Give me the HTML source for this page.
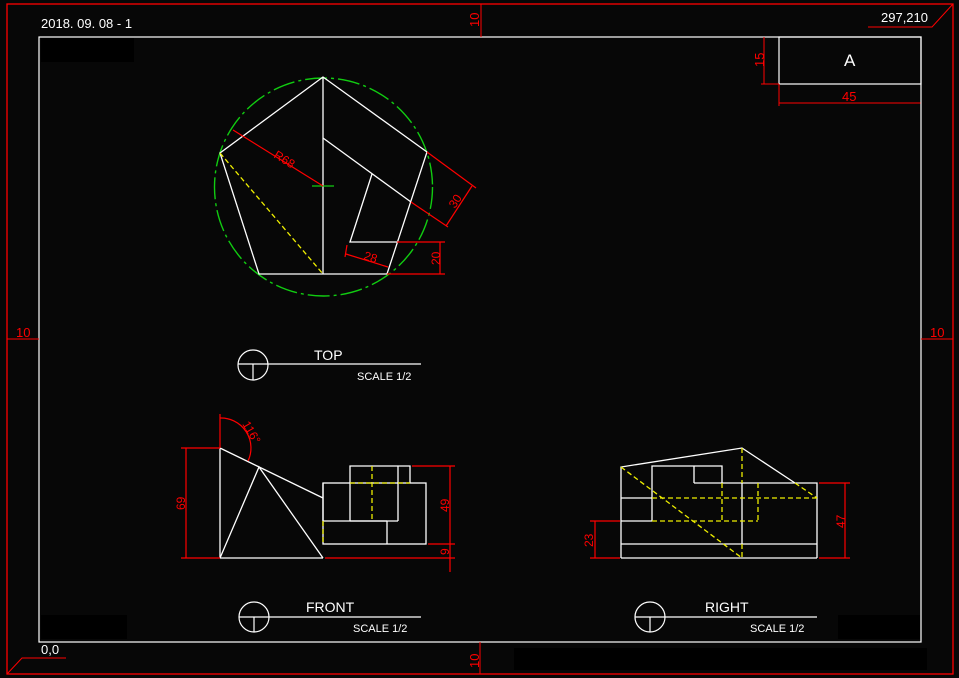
<!DOCTYPE html>
<html><head><meta charset="utf-8"><style>
html,body{margin:0;padding:0;background:#070707;}
svg{display:block;font-family:"Liberation Sans",sans-serif;}
</style></head><body>
<svg width="959" height="678" viewBox="0 0 959 678" xmlns="http://www.w3.org/2000/svg">
<rect width="959" height="678" fill="#070707"/>
<rect x="41" y="38" width="93" height="24" fill="#000"/>
<rect x="41" y="615" width="86" height="24" fill="#000"/>
<rect x="838" y="615" width="82" height="24" fill="#000"/>
<rect x="514" y="648" width="413" height="22" fill="#000"/>
<!-- frames -->
<rect x="7" y="4" width="946" height="670" fill="none" stroke="#f00" stroke-width="1.3"/>
<rect x="39" y="37" width="882" height="605" fill="none" stroke="#fff" stroke-width="1.2"/>
<g stroke="#f00" stroke-width="1">
<line x1="481" y1="4" x2="481" y2="37"/>
<line x1="480" y1="642" x2="480" y2="674"/>
<line x1="7" y1="339" x2="39" y2="339"/>
<line x1="921" y1="339" x2="953" y2="339"/>
<polyline points="868,27 932,27 953,4" fill="none"/>
<polyline points="66,658 22,658 7,674" fill="none"/>
</g>
<g fill="#f00" font-size="13">
<text x="0" y="0" transform="translate(479,27) rotate(-90)">10</text>
<text x="0" y="0" transform="translate(479,668) rotate(-90)">10</text>
<text x="16" y="337">10</text>
<text x="930" y="337">10</text>
</g>
<g fill="#fff" font-size="13">
<text x="41" y="28">2018. 09. 08 - 1</text>
<text x="881" y="22">297,210</text>
<text x="41" y="654">0,0</text>
</g>
<!-- title block -->
<rect x="779" y="37" width="142" height="47" fill="none" stroke="#fff" stroke-width="1.2"/>
<text x="844" y="66" fill="#fff" font-size="17">A</text>
<g stroke="#f00" stroke-width="1">
<line x1="764" y1="37" x2="764" y2="84"/>
<line x1="761" y1="84" x2="779" y2="84"/>
<line x1="779" y1="84" x2="779" y2="106"/>
<line x1="779" y1="103" x2="921" y2="103"/>
</g>
<line x1="921" y1="84" x2="921" y2="106" stroke="#fff"/>
<text x="0" y="0" transform="translate(764,67) rotate(-90)" fill="#f00" font-size="13">15</text>
<text x="842" y="101" fill="#f00" font-size="13">45</text>
<!-- TOP view -->
<circle cx="323.5" cy="187" r="109" fill="none" stroke="#1c1" stroke-width="1.4" stroke-dasharray="22,4,3,4"/>
<g stroke="#fff" stroke-width="1.3" fill="none">
<polygon points="323,77 220,153 259,274 387,274 427,152"/>
<line x1="323" y1="77" x2="323" y2="274"/>
<line x1="323" y1="138" x2="411" y2="202"/>
<polyline points="372,174 350,242 397,242"/>
</g>
<line x1="312" y1="186" x2="334" y2="186" stroke="#1c1" stroke-width="1.3"/>
<line x1="220" y1="153" x2="323" y2="274" stroke="#ee0" stroke-width="1.3" stroke-dasharray="5,3"/>
<g stroke="#f00" stroke-width="1.2" fill="none">
<line x1="233" y1="130" x2="323" y2="186"/>
<line x1="411" y1="202" x2="448" y2="227"/>
<line x1="427" y1="152" x2="476" y2="188"/>
<line x1="472" y1="186" x2="446" y2="226"/>
<line x1="346" y1="254" x2="388" y2="267"/>
<line x1="347" y1="245" x2="345" y2="257"/>
<line x1="397" y1="242" x2="445" y2="242"/>
<line x1="387" y1="274" x2="445" y2="274"/>
<line x1="440" y1="242" x2="440" y2="274"/>
</g>
<g fill="#f00" font-size="12">
<text transform="translate(273,157) rotate(32)">R68</text>
<text transform="translate(455,209) rotate(-57)">30</text>
<text transform="translate(363,259) rotate(18)">28</text>
<text transform="translate(440,265) rotate(-90)">20</text>
</g>
<!-- labels -->
<g stroke="#fff" stroke-width="1.2" fill="none">
<circle cx="253" cy="365" r="15"/><line x1="238" y1="364" x2="421" y2="364"/><line x1="253" y1="364" x2="253" y2="380"/>
<circle cx="254" cy="617" r="15"/><line x1="239" y1="617" x2="421" y2="617"/><line x1="254" y1="617" x2="254" y2="632"/>
<circle cx="650" cy="617" r="15"/><line x1="635" y1="617" x2="817" y2="617"/><line x1="650" y1="617" x2="650" y2="632"/>
</g>
<g fill="#fff">
<text x="314" y="360" font-size="14">TOP</text>
<text x="357" y="380" font-size="11">SCALE 1/2</text>
<text x="306" y="612" font-size="14">FRONT</text>
<text x="353" y="632" font-size="11">SCALE 1/2</text>
<text x="705" y="612" font-size="14">RIGHT</text>
<text x="750" y="632" font-size="11">SCALE 1/2</text>
</g>
<!-- FRONT view -->
<g stroke="#fff" stroke-width="1.3" fill="none">
<line x1="220" y1="448" x2="220" y2="558"/>
<line x1="220" y1="558" x2="323" y2="558"/>
<line x1="220" y1="448" x2="323" y2="498"/>
<polyline points="220,558 259,467 323,558"/>
<line x1="323" y1="483" x2="323" y2="521"/>
<rect x="323" y="483" width="103" height="61"/>
<polyline points="350,521 350,466 410,466 410,483"/>
<line x1="398" y1="466" x2="398" y2="521"/>
<line x1="350" y1="521" x2="398" y2="521"/>
<line x1="323" y1="521" x2="387" y2="521"/>
<line x1="387" y1="521" x2="387" y2="544"/>
</g>
<g stroke="#ee0" stroke-width="1.3" stroke-dasharray="5,3">
<line x1="350" y1="483" x2="410" y2="483"/>
<line x1="372" y1="466" x2="372" y2="521"/>
<line x1="323" y1="521" x2="323" y2="544"/>
</g>
<g stroke="#f00" stroke-width="1.2" fill="none">
<line x1="181" y1="448" x2="220" y2="448"/>
<line x1="181" y1="558" x2="220" y2="558"/>
<line x1="186" y1="448" x2="186" y2="558"/>
<line x1="325" y1="558" x2="455" y2="558"/>
<line x1="412" y1="466" x2="455" y2="466"/>
<line x1="428" y1="544" x2="455" y2="544"/>
<line x1="450" y1="466" x2="450" y2="572"/>
<line x1="220" y1="448" x2="220" y2="414"/>
<path d="M220,418 A30,30 0 0,1 248,461"/>
</g>
<g fill="#f00" font-size="12">
<text transform="translate(185,510) rotate(-90)">69</text>
<text transform="translate(449,512) rotate(-90)">49</text>
<text transform="translate(449,555) rotate(-90)">9</text>
<text transform="translate(242,424) rotate(60)">116°</text>
</g>
<!-- RIGHT view -->
<g stroke="#fff" stroke-width="1.3" fill="none">
<polyline points="621,558 621,467 742,448 795,483"/>
<line x1="621" y1="558" x2="817" y2="558"/>
<polyline points="694,483 817,483 817,558"/>
<polyline points="652,521 652,466 722,466 722,483"/>
<line x1="694" y1="466" x2="694" y2="483"/>
<line x1="621" y1="498" x2="652" y2="498"/>
<line x1="621" y1="521" x2="652" y2="521"/>
<line x1="621" y1="544" x2="817" y2="544"/>
<line x1="742" y1="483" x2="742" y2="544"/>
</g>
<g stroke="#ee0" stroke-width="1.3" stroke-dasharray="5,3">
<line x1="795" y1="483" x2="817" y2="498"/>
<line x1="652" y1="498" x2="817" y2="498"/>
<line x1="652" y1="521" x2="758" y2="521"/>
<line x1="758" y1="483" x2="758" y2="521"/>
<line x1="722" y1="483" x2="722" y2="521"/>
<line x1="742" y1="448" x2="742" y2="483"/>
<line x1="742" y1="544" x2="742" y2="558"/>
<line x1="621" y1="467" x2="742" y2="558"/>
</g>
<g stroke="#f00" stroke-width="1.2">
<line x1="590" y1="521" x2="620" y2="521"/>
<line x1="590" y1="558" x2="620" y2="558"/>
<line x1="595" y1="521" x2="595" y2="558"/>
<line x1="819" y1="483" x2="850" y2="483"/>
<line x1="819" y1="558" x2="850" y2="558"/>
<line x1="845" y1="483" x2="845" y2="558"/>
</g>
<g fill="#f00" font-size="12">
<text transform="translate(593,547) rotate(-90)">23</text>
<text transform="translate(845,528) rotate(-90)">47</text>
</g>
</svg>
</body></html>
